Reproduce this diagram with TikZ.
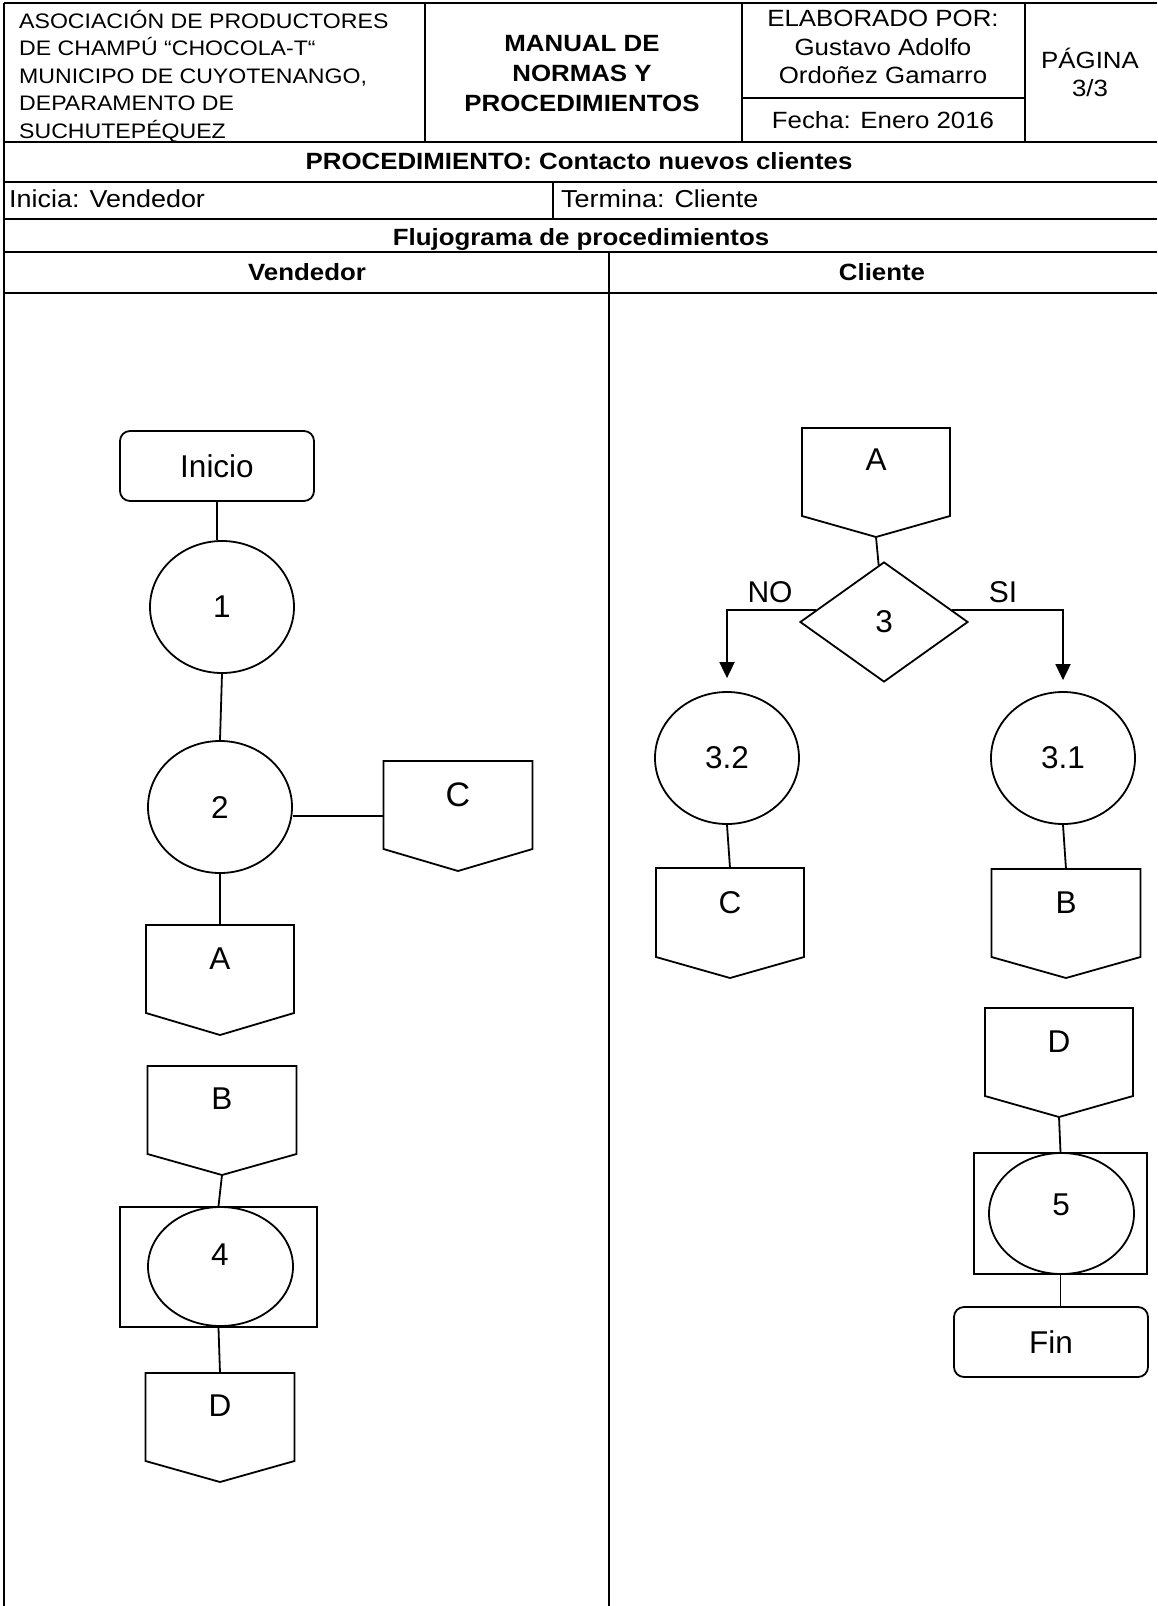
\documentclass[tikz,border=0pt]{standalone}
\usepackage{fontspec}
\setmainfont{Liberation Sans}[FakeStretch=1.1]
\newfontfamily\flowfont{Liberation Sans}
\usetikzlibrary{shapes.geometric,arrows.meta,calc}
\newcommand\offpg[6]{%
  \node[ghost, minimum width=#4pt, minimum height=#6pt] (#1) at (#2, #3+#6/2) {};
  \draw[ln] (#1.north west) -- (#1.north east) -- ([yshift=#6pt-#5pt]#1.south east) -- (#1.south) -- ([yshift=#6pt-#5pt]#1.south west) -- cycle;
}
\begin{document}
\begin{tikzpicture}[x=1pt,y=-1pt,
  ln/.style={line width=1.8pt},
  hdr/.style={font=\fontsize{23.5}{27}\selectfont, inner sep=0, anchor=base},
  hdrl/.style={font=\fontsize{21}{25}\selectfont, inner sep=0, anchor=base west},
  hdrb/.style={inner sep=0, anchor=base, font=\fontsize{23.5}{27}\selectfont\bfseries},
  txt/.style={font=\flowfont\fontsize{31.5}{36}\selectfont, inner sep=0},
  proc/.style={ellipse, draw, ln, minimum width=144pt, minimum height=132pt, inner sep=0, font=\flowfont\fontsize{31.5}{36}\selectfont},
  term/.style={rectangle, rounded corners=10pt, draw, ln, minimum width=194pt, minimum height=70pt, inner sep=0, font=\flowfont\fontsize{31.5}{36}\selectfont},
  ghost/.style={inner sep=0, outer sep=0, draw=none},
  arr/.style={ln, -{Triangle[length=16pt,width=15pt]}},
]
\useasboundingbox (0,0) rectangle (1157,1606);
% ---------- header grid ----------
\draw[ln] (4,3) -- (1157,3);
\draw[ln] (4,142) -- (1157,142);
\draw[ln] (4,182) -- (1157,182);
\draw[ln] (4,219) -- (1157,219);
\draw[ln] (4,252) -- (1157,252);
\draw[ln] (4,293) -- (1157,293);
\draw[ln] (742,98) -- (1025,98);
\draw[ln] (4,3) -- (4,1606);
\draw[ln] (425,3) -- (425,142);
\draw[ln] (742,3) -- (742,142);
\draw[ln] (1025,3) -- (1025,142);
\draw[ln] (553,182) -- (553,219);
\draw[ln] (609,252) -- (609,1606);
% ---------- header texts ----------
\node[hdrl] (h1) at (19,28) {ASOCIACIÓN DE PRODUCTORES};
\node[hdrl] (h2) at (19,55.5) {DE CHAMPÚ “CHOCOLA-T“};
\node[hdrl] (h3) at (19,83) {MUNICIPO DE CUYOTENANGO,};
\node[hdrl] (h4) at (19,110.5) {DEPARAMENTO DE};
\node[hdrl] (h5) at (19,138) {SUCHUTEPÉQUEZ};
\node[hdrb] (m1) at (582,51) {MANUAL DE};
\node[hdrb] (m2) at (582,81) {NORMAS Y};
\node[hdrb] (m3) at (582,111) {PROCEDIMIENTOS};
\node[hdr] (e1) at (883,27) {ELABORADO POR:};
\node[hdr] (e2) at (883,55) {Gustavo Adolfo};
\node[hdr] (e3) at (883,83) {Ordoñez Gamarro};
\node[hdr] (e4) at (883,128) {Fecha: Enero 2016};
\node[hdr] (pg1) at (1090,68) {PÁGINA};
\node[hdr] (pg2) at (1090,96) {3/3};
\node[hdrb] (proc) at (579,169) {PROCEDIMIENTO: Contacto nuevos clientes};
\node[hdr, anchor=base west, font=\fontsize{24.5}{28}\selectfont] (ini) at (9,207) {Inicia: Vendedor};
\node[hdr, anchor=base west, font=\fontsize{24.5}{28}\selectfont] (ter) at (561,207) {Termina: Cliente};
\node[hdrb] (flu) at (581,245) {Flujograma de procedimientos};
\node[hdrb] (lv) at (307,280) {Vendedor};
\node[hdrb] (lc) at (882,280) {Cliente};
% ---------- left lane ----------
\node[term] (inicio) at (217,466) {Inicio};
\node[proc] (p1) at (222,607) {1};
\node[proc] (p2) at (220,807) {2};
\offpg{cL}{458}{761}{149}{88}{110}
\node[txt, font=\flowfont\fontsize{34}{38}\selectfont] (cLt) at (458,795) {C};
\offpg{aL}{220}{925}{148}{88}{110}
\node[txt] (aLt) at (220,959) {A};
\offpg{bL}{222}{1066}{149}{88}{109}
\node[txt] (bLt) at (222,1099) {B};
\node[draw, ln, minimum width=197pt, minimum height=120pt, inner sep=0] (r4) at (218.5,1267) {};
\node[ellipse, draw, ln, minimum width=145pt, minimum height=119pt, inner sep=0] (p4) at (220.5,1266.5) {};
\node[txt] (p4t) at (220,1255) {4};
\offpg{dL}{220}{1373}{149}{88}{109}
\node[txt] (dLt) at (220,1406) {D};
\draw[ln] (inicio.south) -- (inicio.south |- p1.north);
\draw[ln] (p1.south) -- (p2.north);
\draw[ln] (cL.west -| p2.east) -- (cL.west);
\draw[ln] (p2.south) -- (aL.north);
\draw[ln] (bL.south) -- (r4.north);
\draw[ln] (r4.south) -- (dL.north);
% ---------- right lane ----------
\offpg{aR}{876}{428}{148}{88}{109}
\node[txt] (aRt) at (876,460) {A};
\node[diamond, draw, ln, minimum width=168pt, minimum height=120pt, inner sep=0, font=\flowfont\fontsize{31.5}{36}\selectfont] (dia) at (884,622) {3};
\draw[ln] (aR.south) -- (dia);
\node[proc] (p32) at (727,758) {3.2};
\node[proc] (p31) at (1063,758) {3.1};
\draw[arr] (dia.170) -| ([yshift=13pt]p32.north);
\draw[arr] (dia.10) -| ([yshift=11pt]p31.north);
\node[txt, font=\flowfont\fontsize{30}{34}\selectfont] (no) at (770,592) {NO};
\node[txt, font=\flowfont\fontsize{30}{34}\selectfont] (si) at (1003,592) {SI};
\offpg{cR}{730}{868}{148}{89}{110}
\node[txt] (cRt) at (730,903) {C};
\draw[ln] (p32.south) -- (cR.north);
\offpg{bR}{1066}{869}{149}{88}{109}
\node[txt] (bRt) at (1066,903) {B};
\draw[ln] (p31.south) -- (bR.north);
\offpg{dR}{1059}{1008}{148}{88}{109}
\node[txt] (dRt) at (1059,1042) {D};
\node[draw, ln, minimum width=173pt, minimum height=121pt, inner sep=0] (r5) at (1060.5,1213.5) {};
\node[ellipse, draw, ln, minimum width=145pt, minimum height=121pt, inner sep=0] (p5) at (1061.5,1213.5) {};
\node[txt] (p5t) at (1061,1205) {5};
\draw[ln] (dR.south) -- (r5.north);
\node[term] (fin) at (1051,1342) {Fin};
\draw[ln] (r5.south) -- (r5.south |- fin.north);
\end{tikzpicture}
\end{document}
